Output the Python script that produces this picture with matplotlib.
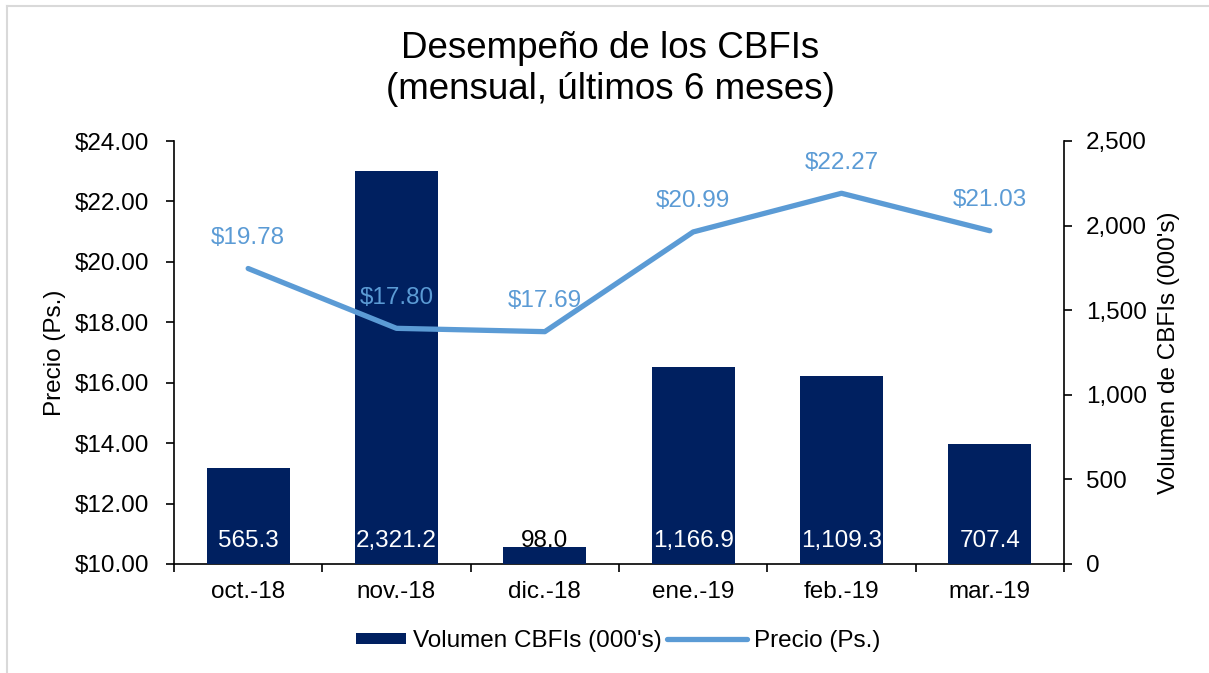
import matplotlib.pyplot as plt
from matplotlib.patches import Rectangle
from matplotlib.lines import Line2D
from matplotlib.legend_handler import HandlerPatch
from matplotlib.ticker import FuncFormatter, MultipleLocator

plt.rcParams['font.family'] = ['Liberation Sans', 'DejaVu Sans']

# data
meses = ["oct.-18", "nov.-18", "dic.-18", "ene.-19", "feb.-19", "mar.-19"]
volumen = [565.3, 2321.2, 98.0, 1166.9, 1109.3, 707.4]
precio = [19.78, 17.80, 17.69, 20.99, 22.27, 21.03]

navy = "#002060"
azul = "#5B9BD5"
fs = 17.5

fig = plt.figure(figsize=(12.09, 6.73), dpi=100)
# light grey frame, only left and top edges show in the picture
bx, by = 7 / 1209, 1 - 6 / 673
fig.lines.append(Line2D([bx, bx], [0, by], transform=fig.transFigure, color="#d9d9d9", lw=1.5))
fig.lines.append(Line2D([bx, 1], [by, by], transform=fig.transFigure, color="#d9d9d9", lw=1.5))

ax = fig.add_axes([174 / 1209, 1 - 564 / 673, (1064 - 174) / 1209, (564 - 141) / 673])
ax2 = ax.twinx()

x = list(range(len(meses)))

# bars on the right (volume) axis
bars = ax2.bar(x, volumen, width=0.56, color=navy, zorder=1)
for xi, v in zip(x, volumen):
    col = "white" if v > 250 else "black"
    ax2.text(xi, 136, f"{v:,.1f}", ha="center", va="center", color=col, fontsize=fs)

ax2.set_ylim(0, 2500)
ax2.yaxis.set_major_locator(MultipleLocator(500))
ax2.yaxis.set_major_formatter(FuncFormatter(lambda v, p: f"{v:,.0f}"))
ax2.set_ylabel("Volumen de CBFIs (000's)", fontsize=fs, labelpad=8)

# line drawn on a third axes on top so it sits above the bars
ax3 = ax.twinx()
ax3.set_ylim(10, 24)
ax3.axis("off")
linea, = ax3.plot(x, precio, color=azul, linewidth=3.8, solid_capstyle="round")
for xi, p in zip(x, precio):
    ax3.annotate(f"${p:.2f}", (xi, p), xytext=(0, 22), textcoords="offset points",
                 ha="center", va="center", color=azul, fontsize=fs)

ax.set_ylim(10, 24)
ax.set_xlim(-0.5, len(meses) - 0.5)
ax.yaxis.set_major_locator(MultipleLocator(2))
ax.yaxis.set_major_formatter(FuncFormatter(lambda v, p: f"${v:.2f}"))
ax.set_ylabel("Precio (Ps.)", fontsize=fs, labelpad=6)
ax.set_xticks(x)
ax.set_xticklabels(meses)
ax.set_xticks([i - 0.5 for i in range(len(meses) + 1)], minor=True)
ax.tick_params(axis="x", which="major", length=0, pad=12, labelsize=fs)
ax.tick_params(axis="x", which="minor", length=6, width=1.2, direction="out")
ax.tick_params(axis="y", length=6, width=1.2, direction="out", labelsize=fs, pad=12)
ax2.tick_params(axis="y", length=6, width=1.2, direction="out", labelsize=fs, pad=10)

for a in (ax, ax2, ax3):
    a.spines["top"].set_visible(False)
ax.spines["right"].set_visible(False)
ax2.spines["left"].set_visible(False)
ax2.spines["bottom"].set_visible(False)
ax2.spines["right"].set_linewidth(1.2)
ax.spines["left"].set_linewidth(1.2)
ax.spines["bottom"].set_linewidth(1.2)
ax.patch.set_visible(False)

fig.text(610 / 1209, 1 - 69 / 673, "Desempeño de los CBFIs\n(mensual, últimos 6 meses)",
         ha="center", va="center", fontsize=26.5, linespacing=1.2)


# narrow, right-aligned box for the bar entry in the legend
def caja(legend, orig_handle, xdescent, ydescent, width, height, fontsize):
    return Rectangle((-xdescent + width * 0.38, -ydescent + height * 0.15),
                     width * 0.62, height * 0.7)


fig.legend(handles=[bars.patches[0], linea], labels=["Volumen CBFIs (000's)", "Precio (Ps.)"],
           loc="center", bbox_to_anchor=(603 / 1209, 1 - 641 / 673),
           ncol=2, frameon=False, fontsize=fs, handlelength=3.3, columnspacing=0.2,
           handletextpad=0.3, handler_map={Rectangle: HandlerPatch(patch_func=caja)})

fig.savefig("out.png", dpi=100)
